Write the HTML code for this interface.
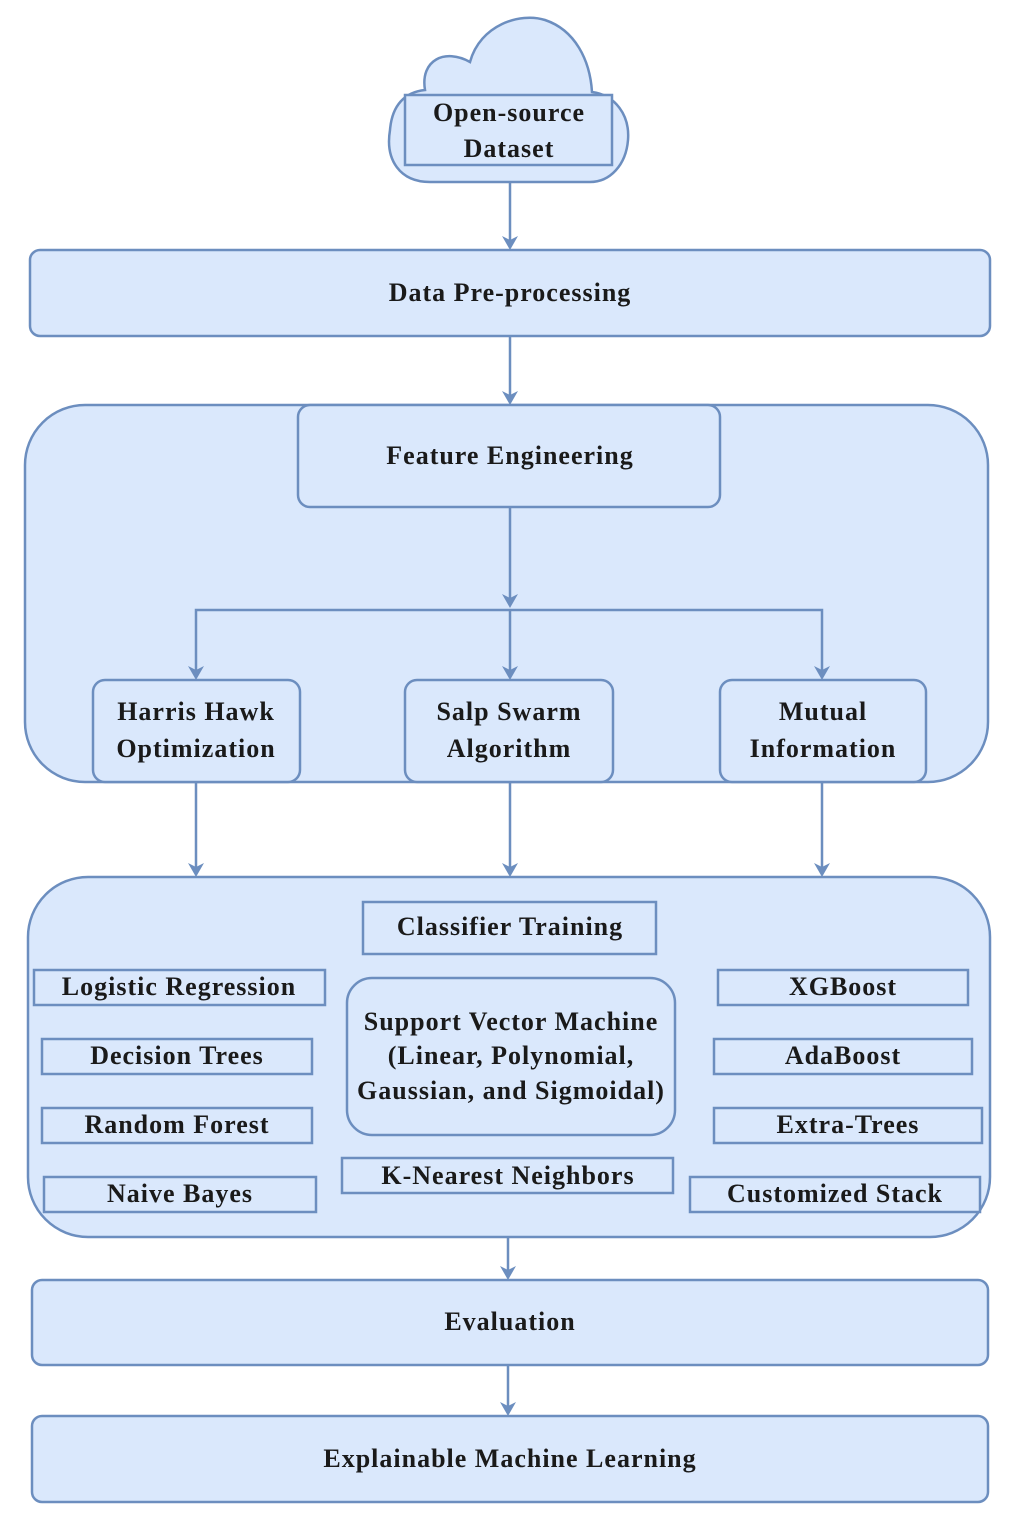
<!DOCTYPE html>
<html><head><meta charset="utf-8"><style>
html,body{margin:0;padding:0;background:#fff;}
svg text{font-family:"Liberation Serif",serif;font-weight:bold;font-size:26px;letter-spacing:1px;fill:#1a1a1a;text-anchor:middle;}
</style></head><body>
<svg width="1011" height="1519" viewBox="0 0 1011 1519" xmlns="http://www.w3.org/2000/svg">
<g fill="#dae8fc" stroke="#6c8ebf" stroke-width="2.5">
<path d="M430,182 C400,182 385,160 390,130 C392,105 405,92 425,90 C420,60 445,48 470,62 C480,25 520,12 545,20 C575,30 590,60 592,92 C615,95 630,115 628,140 C626,165 610,182 590,182 Z"/>
<rect x="405" y="95" width="207" height="70"/>
<rect x="30" y="250" width="960" height="86" rx="10"/>
<rect x="25" y="405" width="963" height="377" rx="60"/>
<rect x="298" y="405" width="422" height="102" rx="12"/>
<rect x="93" y="680" width="207" height="102" rx="12"/>
<rect x="405" y="680" width="208" height="102" rx="12"/>
<rect x="720" y="680" width="206" height="102" rx="12"/>
<rect x="28" y="877" width="962" height="360" rx="60"/>
<rect x="363" y="902" width="293" height="52"/>
<rect x="34" y="970" width="291" height="35"/>
<rect x="42" y="1039" width="270" height="35"/>
<rect x="42" y="1108" width="270" height="35"/>
<rect x="44" y="1177" width="272" height="35"/>
<rect x="347" y="978" width="328" height="157" rx="25"/>
<rect x="342" y="1158" width="331" height="35"/>
<rect x="718" y="970" width="250" height="35"/>
<rect x="714" y="1039" width="258" height="35"/>
<rect x="714" y="1108" width="268" height="35"/>
<rect x="690" y="1177" width="290" height="35"/>
<rect x="32" y="1280" width="956" height="85" rx="10"/>
<rect x="32" y="1416" width="956" height="86" rx="10"/>
</g>
<g stroke="#6c8ebf" stroke-width="2.5" fill="none">
<line x1="510" y1="182" x2="510" y2="240"/>
<line x1="510" y1="336" x2="510" y2="395"/>
<line x1="510" y1="507" x2="510" y2="598"/>
<polyline points="196,670 196,610 822,610 822,670"/>
<line x1="510" y1="610" x2="510" y2="670"/>
<line x1="196" y1="782" x2="196" y2="867"/>
<line x1="510" y1="782" x2="510" y2="867"/>
<line x1="822" y1="782" x2="822" y2="867"/>
<line x1="508" y1="1237" x2="508" y2="1270"/>
<line x1="508" y1="1365" x2="508" y2="1406"/>
</g>
<g fill="#6c8ebf">
<path d="M502,236 L510,250 L518,236 L510,240 Z"/>
<path d="M502,391 L510,405 L518,391 L510,395 Z"/>
<path d="M502,594 L510,608 L518,594 L510,598 Z"/>
<path d="M188,666 L196,680 L204,666 L196,670 Z"/>
<path d="M502,666 L510,680 L518,666 L510,670 Z"/>
<path d="M814,666 L822,680 L830,666 L822,670 Z"/>
<path d="M188,863 L196,877 L204,863 L196,867 Z"/>
<path d="M502,863 L510,877 L518,863 L510,867 Z"/>
<path d="M814,863 L822,877 L830,863 L822,867 Z"/>
<path d="M500,1266 L508,1280 L516,1266 L508,1270 Z"/>
<path d="M500,1402 L508,1416 L516,1402 L508,1406 Z"/>
</g>
<text x="509" y="121">Open-source</text>
<text x="509" y="157">Dataset</text>
<text x="510" y="301">Data Pre-processing</text>
<text x="510" y="464">Feature Engineering</text>
<text x="196" y="720">Harris Hawk</text>
<text x="196" y="757">Optimization</text>
<text x="509" y="720">Salp Swarm</text>
<text x="509" y="757">Algorithm</text>
<text x="823" y="720">Mutual</text>
<text x="823" y="757">Information</text>
<text x="510" y="935">Classifier Training</text>
<text x="179" y="995">Logistic Regression</text>
<text x="177" y="1064">Decision Trees</text>
<text x="177" y="1133">Random Forest</text>
<text x="180" y="1202">Naive Bayes</text>
<text x="511" y="1030">Support Vector Machine</text>
<text x="511" y="1064">(Linear, Polynomial,</text>
<text x="511" y="1099">Gaussian, and Sigmoidal)</text>
<text x="508" y="1184">K-Nearest Neighbors</text>
<text x="843" y="995">XGBoost</text>
<text x="843" y="1064">AdaBoost</text>
<text x="848" y="1133">Extra-Trees</text>
<text x="835" y="1202">Customized Stack</text>
<text x="510" y="1330">Evaluation</text>
<text x="510" y="1467">Explainable Machine Learning</text>
</svg>
</body></html>
